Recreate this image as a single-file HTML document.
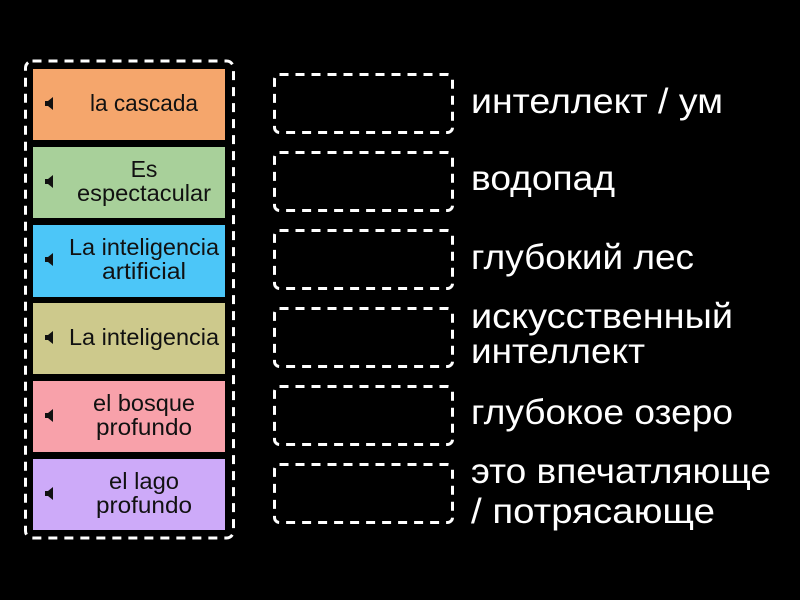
<!DOCTYPE html>
<html><head><meta charset="utf-8"><style>
html,body{margin:0;padding:0;background:#000;width:800px;height:600px;overflow:hidden}
svg text{font-family:"Liberation Sans","DejaVu Sans",sans-serif}
</style></head><body>
<svg width="800" height="600" viewBox="0 0 800 600" xmlns="http://www.w3.org/2000/svg">
<rect x="0" y="0" width="800" height="600" fill="#000"/>
<rect x="25.5" y="61" width="208" height="477" rx="7" fill="none" stroke="#fff" stroke-width="3" stroke-dasharray="9 7"/>
<g font-size="23" fill="#111" text-anchor="middle">
<rect x="33" y="69" width="192" height="71" fill="#f5a66c"/>
<rect x="33" y="147" width="192" height="71" fill="#a8d09a"/>
<rect x="33" y="225" width="192" height="72" fill="#4cc6f8"/>
<rect x="33" y="303" width="192" height="71" fill="#cdc98c"/>
<rect x="33" y="381" width="192" height="71" fill="#f8a1aa"/>
<rect x="33" y="459" width="192" height="71" fill="#cdaaf9"/>
<text x="144" y="111" textLength="108" lengthAdjust="spacingAndGlyphs">la cascada</text>
<text x="144" y="177">Es</text><text x="144" y="201" textLength="134" lengthAdjust="spacingAndGlyphs">espectacular</text>
<text x="144" y="255" textLength="150" lengthAdjust="spacingAndGlyphs">La inteligencia</text><text x="144" y="279" textLength="84" lengthAdjust="spacingAndGlyphs">artificial</text>
<text x="144" y="345" textLength="150" lengthAdjust="spacingAndGlyphs">La inteligencia</text>
<text x="144" y="411" textLength="102" lengthAdjust="spacingAndGlyphs">el bosque</text><text x="144" y="435" textLength="96" lengthAdjust="spacingAndGlyphs">profundo</text>
<text x="144" y="489" textLength="70" lengthAdjust="spacingAndGlyphs">el lago</text><text x="144" y="513" textLength="96" lengthAdjust="spacingAndGlyphs">profundo</text>
</g>
<g fill="#111">
<path d="M45 101h3l5-4v13l-5-4h-3z"/>
<path d="M45 179h3l5-4v13l-5-4h-3z"/>
<path d="M45 257h3l5-4v13l-5-4h-3z"/>
<path d="M45 335h3l5-4v13l-5-4h-3z"/>
<path d="M45 413h3l5-4v13l-5-4h-3z"/>
<path d="M45 491h3l5-4v13l-5-4h-3z"/>
</g>
<g fill="none" stroke="#fff" stroke-width="3" stroke-dasharray="9 7">
<rect x="274.5" y="74.5" width="178" height="58" rx="5"/>
<rect x="274.5" y="152.5" width="178" height="58" rx="5"/>
<rect x="274.5" y="230.5" width="178" height="58" rx="5"/>
<rect x="274.5" y="308.5" width="178" height="58" rx="5"/>
<rect x="274.5" y="386.5" width="178" height="58" rx="5"/>
<rect x="274.5" y="464.5" width="178" height="58" rx="5"/>
</g>
<g font-size="35" fill="#fff">
<text x="471" y="113" textLength="252" lengthAdjust="spacingAndGlyphs">интеллект / ум</text>
<text x="471" y="190" textLength="144" lengthAdjust="spacingAndGlyphs">водопад</text>
<text x="471" y="269" textLength="223" lengthAdjust="spacingAndGlyphs">глубокий лес</text>
<text x="471" y="328" textLength="262" lengthAdjust="spacingAndGlyphs">искусственный</text><text x="471" y="363" textLength="174" lengthAdjust="spacingAndGlyphs">интеллект</text>
<text x="471" y="424" textLength="262" lengthAdjust="spacingAndGlyphs">глубокое озеро</text>
<text x="471" y="483" textLength="300" lengthAdjust="spacingAndGlyphs">это впечатляюще</text><text x="471" y="523" textLength="244" lengthAdjust="spacingAndGlyphs">/ потрясающе</text>
</g>
</svg>
</body></html>
